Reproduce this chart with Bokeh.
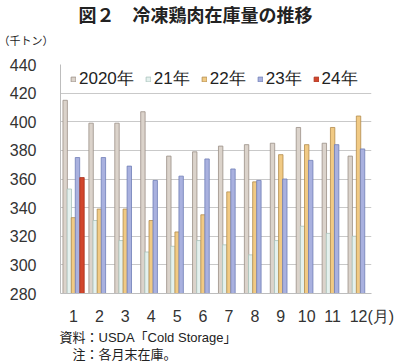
from bokeh.plotting import figure
from bokeh.models import Legend, LegendItem, FixedTicker, ColumnDataSource, Title
from bokeh.embed import file_html
from bokeh.resources import INLINE

months = [1, 2, 3, 4, 5, 6, 7, 8, 9, 10, 11, 12]
month_labels = ["1", "2", "3", "4", "5", "6", "7", "8", "9", "10", "11", "\u00a0" * 6 + "12(月)"]
y2020 = [415, 399, 399, 407, 376, 379, 383, 384, 385, 396, 385, 376]
y2021 = [353, 331, 317, 309, 313, 317, 314, 307, 317, 327, 322, 320]
y2022 = [333, 339, 339, 331, 323, 335, 351, 358, 377, 384, 396, 404]
y2023 = [375, 375, 369, 359, 362, 374, 367, 359, 360, 373, 384, 381]
y2024_months = [1]
y2024 = [361]
series_names = ["2020年", "21年", "22年", "23年", "24年"]
yticks = [280, 300, 320, 340, 360, 380, 400, 420, 440]

JP = "Noto Sans CJK JP"
NUM = "Liberation Sans"
MIX = "Liberation Sans, Noto Sans CJK JP"

p = figure(width=400, height=361, output_backend="svg", toolbar_location=None, title=None,
           x_range=(0.5, 12.5), y_range=(280, 440),
           min_border_left=60, min_border_right=29, min_border_top=62, min_border_bottom=66)
p.outline_line_color = None
p.background_fill_color = "white"
p.border_fill_color = "white"

offs = [-0.32, -0.16, 0.0, 0.155, 0.33]
w = 0.17
fills = ["#dbd3cb", "#e4f1ee", "#f1ca84", "#a9b1df", "#d2462c"]
lines = ["#9a8f86", "#a9c3bb", "#b28c4c", "#6f7db6", "#a8321e"]
data = [(months, y2020), (months, y2021), (months, y2022), (months, y2023), (y2024_months, y2024)]
rends = []
for i, (xs, ys) in enumerate(data):
    src = ColumnDataSource(dict(x=[m + offs[i] for m in xs], top=ys))
    r = p.vbar(x="x", top="top", bottom=280, width=w, source=src,
               fill_color=fills[i], line_color=lines[i], line_width=0.8)
    rends.append(r)

p.xgrid.grid_line_color = None
p.ygrid.grid_line_color = "#c9c9c9"
p.ygrid.grid_line_width = 1
p.yaxis.ticker = FixedTicker(ticks=yticks)
p.xaxis.ticker = FixedTicker(ticks=months)
p.xaxis.major_label_overrides = {m: lab for m, lab in zip(months, month_labels)}
for ax in (p.xaxis, p.yaxis):
    ax.major_tick_line_color = None
    ax.minor_tick_line_color = None
    ax.major_label_text_font = NUM
    ax.major_label_text_font_size = "16px"
    ax.major_label_text_color = "#333333"
p.yaxis.axis_line_color = "#bdbdbd"
p.xaxis.axis_line_color = "#bdbdbd"
p.yaxis.major_label_standoff = 18
p.xaxis.major_label_standoff = 8

legend = Legend(items=[LegendItem(label=series_names[i], renderers=[rends[i]]) for i in range(5)],
                orientation="horizontal", location=(10, 203),
                glyph_width=6, glyph_height=6, label_standoff=3, spacing=11,
                padding=0, margin=0, label_height=18,
                label_text_font=NUM, label_text_font_size="17px", label_text_color="#222222",
                background_fill_alpha=0, border_line_color=None)
p.add_layout(legend)

# titles above (first added = closest to frame)
p.add_layout(Title(text="（千トン）\n\u3000", align="left", offset=-62, standoff=2,
                   text_font=JP, text_font_size="11px", text_font_style="normal",
                   text_color="#222222"), "above")
p.add_layout(Title(text="図２　冷凍鶏肉在庫量の推移", align="left", offset=18, standoff=6,
                   text_font=MIX, text_font_size="18px", text_font_style="bold",
                   text_color="#222222"), "above")
# notes below
p.add_layout(Title(text="資料：USDA「Cold Storage」", align="left", offset=-1, standoff=0,
                   text_font=MIX, text_font_size="13px", text_font_style="normal",
                   text_color="#222222"), "below")
p.add_layout(Title(text="注：各月末在庫。", align="left", offset=12, standoff=0,
                   text_font=MIX, text_font_size="13px", text_font_style="normal",
                   text_color="#222222"), "below")

open("out.html", "w").write(file_html(p, INLINE))
